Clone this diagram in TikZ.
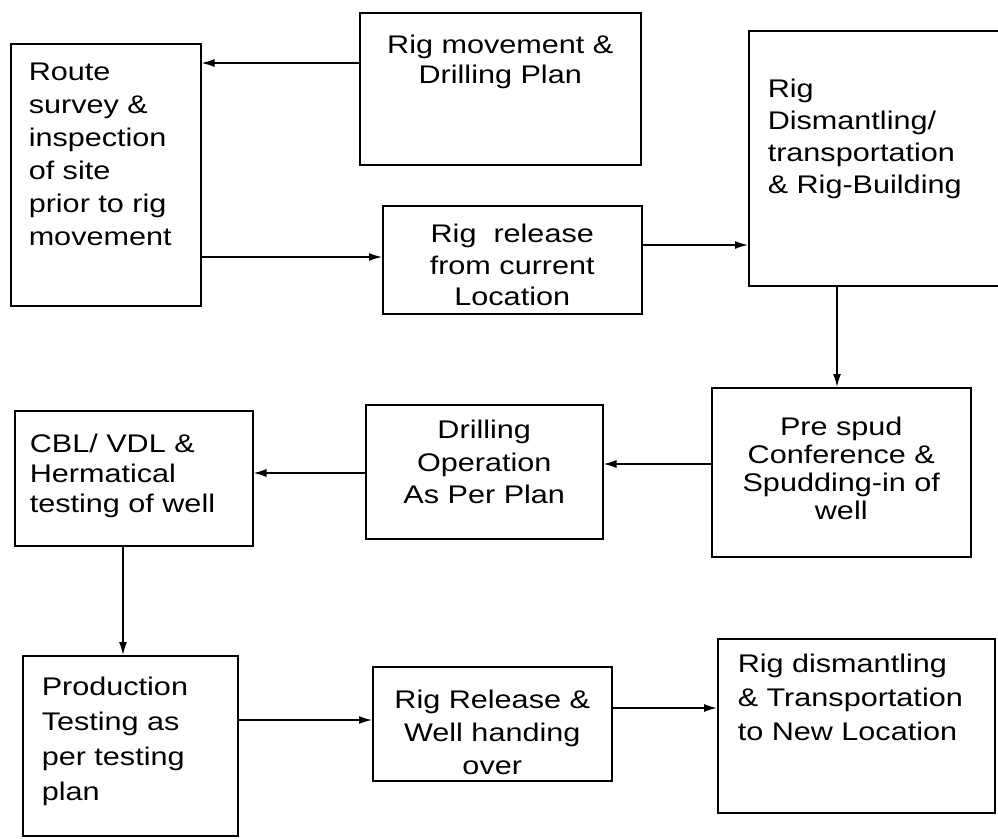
\documentclass[tikz,border=0pt]{standalone}
\usepackage{fontspec}
\setmainfont{Liberation Sans}[FakeStretch=1.2]
\usetikzlibrary{arrows.meta}

\newcommand\stagefont[1]{\fontsize{25.5pt}{#1}\selectfont}
\tikzset{
  stage/.style={draw, line width=1.5pt, anchor=north west, inner ysep=0pt},
  flow/.style={->, line width=1.4pt}
}

\begin{document}
\begin{tikzpicture}[x=1pt, y=-1pt, >={Latex[length=13pt,width=8pt]}]
  \useasboundingbox (0,0) rectangle (998,838);

  % --- top row ---
  \node[stage, inner xsep=18pt, text width=154pt, align=left, text height=37pt, text depth=225pt, font={\stagefont{33pt}}]
    (route) at (10,43) {Route\\survey \&\\inspection\\of site\\prior to rig\\movement};
  \node[stage, inner xsep=0pt, text width=281pt, align=center, text height=41pt, text depth=111pt, font={\stagefont{30pt}}]
    (movement) at (359,12) {Rig movement \&\\Drilling Plan};
  \node[stage, inner xsep=0pt, text width=259pt, align=center, text height=37pt, text depth=71pt, font={\stagefont{31.5pt}}]
    (release) at (382,205) {Rig\ \ release\\from current\\Location};
  \node[stage, inner xsep=19pt, text width=224pt, align=left, text height=67pt, text depth=188pt, font={\stagefont{32pt}}]
    (dismantle) at (748,30) {Rig\\Dismantling/\\transportation\\\& Rig-Building};

  % --- middle row ---
  \node[stage, inner xsep=0pt, text width=259pt, align=center, text height=48pt, text depth=121pt, font={\stagefont{28pt}}]
    (prespud) at (711,387) {Pre spud\\Conference \&\\Spudding-in of\\well};
  \node[stage, inner xsep=0pt, text width=237pt, align=center, text height=34pt, text depth=100pt, font={\stagefont{32.5pt}}]
    (drilling) at (365,404) {Drilling\\Operation\\As Per Plan};
  \node[stage, inner xsep=15pt, text width=208pt, align=left, text height=42pt, text depth=93pt, font={\stagefont{30pt}}]
    (cbl) at (14,410) {CBL/ VDL \&\\Hermatical\\testing of well};

  % --- bottom row ---
  \node[stage, inner xsep=19pt, text width=177pt, align=left, text height=40pt, text depth=140pt, font={\stagefont{35pt}}]
    (production) at (22,655) {Production\\Testing as\\per testing\\plan};
  \node[stage, inner xsep=0pt, text width=239pt, align=center, text height=42pt, text depth=72pt, font={\stagefont{33pt}}]
    (handover) at (372,666) {Rig Release \&\\Well handing\\over};
  \node[stage, inner xsep=20pt, text width=237pt, align=left, text height=34pt, text depth=140pt, font={\stagefont{34pt}}]
    (newloc) at (717,638) {Rig dismantling\\\& Transportation\\to New Location};

  % --- connectors ---
  \draw[flow] (movement.west |- 0,63) -- (route.east |- 0,63);
  \draw[flow] (route.east |- 0,257) -- (release.west |- 0,257);
  \draw[flow] (release.east |- 0,245) -- (dismantle.west |- 0,245);
  \draw[flow] (dismantle.south -| 837,0) -- (prespud.north -| 837,0);
  \draw[flow] (prespud.west |- 0,464) -- (drilling.east |- 0,464);
  \draw[flow] (drilling.west |- 0,473) -- (cbl.east |- 0,473);
  \draw[flow] (cbl.south -| 123,0) -- (production.north -| 123,0);
  \draw[flow] (production.east |- 0,720) -- (handover.west |- 0,720);
  \draw[flow] (handover.east |- 0,708) -- (newloc.west |- 0,708);
\end{tikzpicture}
\end{document}
